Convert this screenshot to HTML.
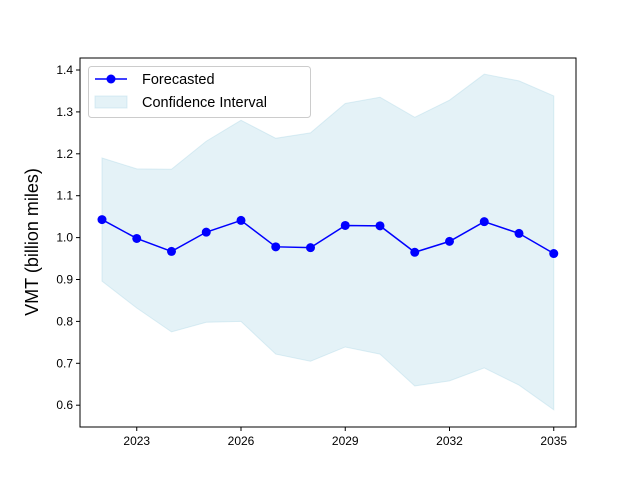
<!DOCTYPE html>
<html><head><meta charset="utf-8"><style>
body{margin:0;background:#fff}
svg{display:block;font-family:"Liberation Sans","DejaVu Sans",sans-serif}
</style></head><body>
<svg id="chart" width="640" height="480"></svg>
<script>
const years=[2022,2023,2024,2025,2026,2027,2028,2029,2030,2031,2032,2033,2034,2035];
const forecast=[1.043,0.998,0.967,1.013,1.041,0.978,0.976,1.029,1.028,0.965,0.991,1.038,1.010,0.962];
const upper=[1.19,1.164,1.163,1.23,1.28,1.237,1.25,1.32,1.335,1.287,1.328,1.39,1.374,1.338];
const lower=[0.896,0.832,0.775,0.798,0.80,0.722,0.705,0.739,0.722,0.646,0.658,0.689,0.648,0.589];
const xTicks=[2023,2026,2029,2032,2035];
const yTicks=[0.6,0.7,0.8,0.9,1.0,1.1,1.2,1.3,1.4];
const NS='http://www.w3.org/2000/svg';
const svg=document.getElementById('chart');
const L=80,R=576,T=58,B=427;
const x=v=>102+(v-2022)*34.75;
const y=v=>70+(1.4-v)*419;
function mk(t,a,p){const e=document.createElementNS(NS,t);for(const k in a)e.setAttribute(k,a[k]);(p||svg).appendChild(e);return e;}
let d='M'+years.map((yr,i)=>x(yr)+','+y(upper[i])).join('L')+'L'+years.slice().reverse().map((yr,j)=>{const i=years.length-1-j;return x(yr)+','+y(lower[i]);}).join('L')+'Z';
const band=mk('path',{d:d,fill:'#add8e6','fill-opacity':0.33,stroke:'#add8e6','stroke-opacity':0.4});


const line=mk('polyline',{points:years.map((yr,i)=>x(yr)+','+y(forecast[i])).join(' '),fill:'none',stroke:'#0000ff','stroke-width':1.5});


years.forEach((yr,i)=>{const c=mk('circle',{cx:x(yr),cy:y(forecast[i]),r:4.5,fill:'#0000ff'});

});
const frame=mk('rect',{x:L,y:T,width:R-L,height:B-T,fill:'none',stroke:'#000','stroke-width':1});


xTicks.forEach(v=>{mk('line',{x1:x(v),x2:x(v),y1:B,y2:B+4,stroke:'#000'});
const t=mk('text',{x:x(v),y:B+18,'text-anchor':'middle','font-size':12});t.textContent=v;

});
yTicks.forEach(v=>{mk('line',{x1:L-4,x2:L,y1:y(v),y2:y(v),stroke:'#000'});
const t=mk('text',{x:L-7,y:y(v)+4,'text-anchor':'end','font-size':12});t.textContent=v.toFixed(1);

});
const yt=mk('text',{x:0,y:0,transform:'translate(38,242) rotate(-90)','text-anchor':'middle','font-size':18});yt.textContent='VMT (billion miles)';


const lg=mk('g',{});


mk('rect',{x:88.5,y:66.5,width:222,height:51,rx:3,fill:'#fff','fill-opacity':0.8,stroke:'#ccc'},lg);
mk('line',{x1:95,x2:127,y1:79,y2:79,stroke:'#0000ff','stroke-width':1.5},lg);
mk('circle',{cx:111,cy:79,r:4.5,fill:'#0000ff'},lg);
const t1=mk('text',{x:142,y:84,'font-size':14.5},lg);t1.textContent='Forecasted';


mk('rect',{x:95,y:96,width:32,height:12,fill:'#add8e6','fill-opacity':0.33,stroke:'#add8e6','stroke-opacity':0.4},lg);
const t2=mk('text',{x:142,y:107,'font-size':14.5},lg);t2.textContent='Confidence Interval';


</script>
</body></html>
